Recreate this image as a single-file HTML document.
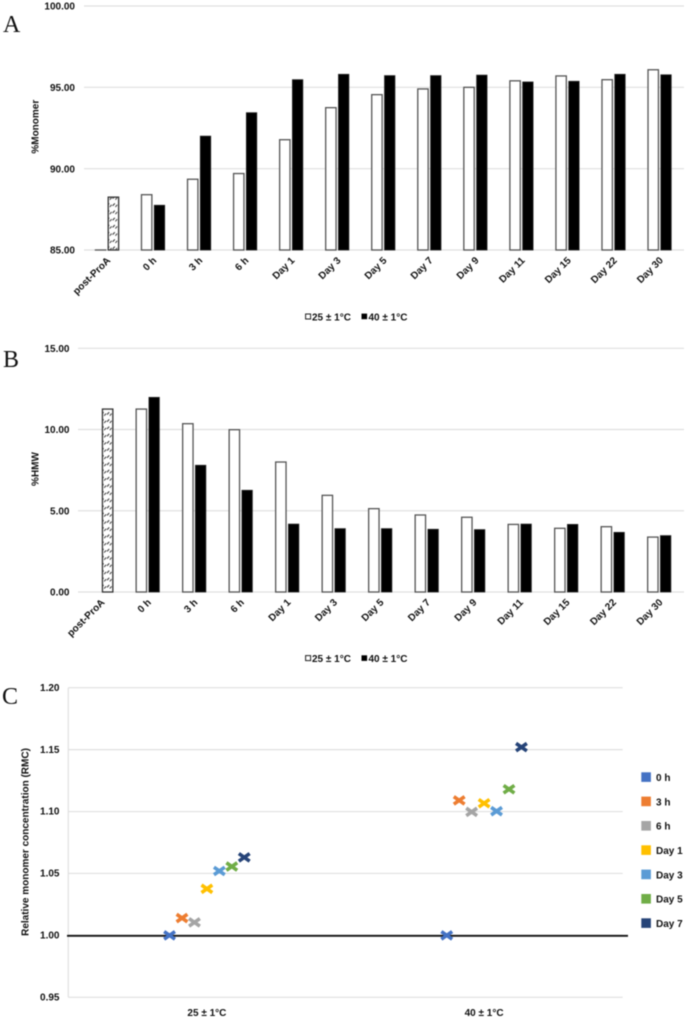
<!DOCTYPE html>
<html lang="en">
<head>
<meta charset="utf-8">
<title>Monomer, HMW and RMC stability charts</title>
<style>
html,body{margin:0;padding:0;background:#fff;width:685px;height:1020px;overflow:hidden}
svg{display:block;filter:blur(0.4px)}
text{font-family:"Liberation Sans",sans-serif;font-size:10px;font-weight:bold;fill:#111}
.panel{font-family:"Liberation Serif",serif;font-size:24px;font-weight:normal;fill:#111}
</style>
</head>
<body>
<svg id="figure" xmlns="http://www.w3.org/2000/svg" width="685" height="1020" viewBox="0 0 685 1020">
  <defs>
    <pattern id="hatch" patternUnits="userSpaceOnUse" x="0" y="0" width="5.6" height="7.2">
      <path d="M0.6 4.2L2.8 1.8M3.4 5.4L5.2 3.2" stroke="#222" stroke-width="0.9" fill="none"/>
    </pattern>
  </defs>
  <text class="panel" x="3" y="32">A</text>
  <text class="panel" x="3" y="367">B</text>
  <text class="panel" x="2" y="704">C</text>

  <g id="chartA"></g>
  <g id="chartB"></g>
  <g id="chartC"></g>

  <g>
    <rect x="305.6" y="314" width="5" height="5" fill="#fff" stroke="#222" stroke-width="1"/>
    <text x="312" y="320.3">25 ± 1°C</text>
    <rect x="361.5" y="313.6" width="5.6" height="5.6" fill="#000"/>
    <text x="368.5" y="320.3">40 ± 1°C</text>
  </g>
  <g>
    <rect x="305.6" y="655.6" width="5" height="5" fill="#fff" stroke="#222" stroke-width="1"/>
    <text x="312" y="662">25 ± 1°C</text>
    <rect x="361.5" y="655.3" width="5.6" height="5.6" fill="#000"/>
    <text x="368.5" y="662">40 ± 1°C</text>
  </g>
  <g>
    <rect x="641.3" y="772.3" width="9.6" height="9.6" fill="#4472c4"/>
    <text x="656" y="781">0 h</text>
    <rect x="641.3" y="796.6" width="9.6" height="9.6" fill="#ed7d31"/>
    <text x="656" y="805.3">3 h</text>
    <rect x="641.3" y="821" width="9.6" height="9.6" fill="#a5a5a5"/>
    <text x="656" y="829.7">6 h</text>
    <rect x="641.3" y="845.3" width="9.6" height="9.6" fill="#ffc000"/>
    <text x="656" y="854">Day 1</text>
    <rect x="641.3" y="869.6" width="9.6" height="9.6" fill="#5b9bd5"/>
    <text x="656" y="878.3">Day 3</text>
    <rect x="641.3" y="894" width="9.6" height="9.6" fill="#70ad47"/>
    <text x="656" y="902.7">Day 5</text>
    <rect x="641.3" y="918.3" width="9.6" height="9.6" fill="#264478"/>
    <text x="656" y="927">Day 7</text>
  </g>
</svg>
<script>
// ---- shared categories ----
const barCategories = ["post-ProA","0 h","3 h","6 h","Day 1","Day 3","Day 5","Day 7","Day 9","Day 11","Day 15","Day 22","Day 30"];

// ---- chart A: %Monomer ----
const monomerTicks = [85, 90, 95, 100];
const monomerTickLabels = ["85.00","90.00","95.00","100.00"];
const monomer25 = [85.0,88.4,89.35,89.7,91.78,93.75,94.55,94.9,95.0,95.4,95.7,95.47,96.08];
const monomer40 = [null,87.75,92.0,93.44,95.47,95.8,95.72,95.72,95.75,95.33,95.37,95.8,95.77];
const monomerPostProA = [88.25];

// ---- chart B: %HMW ----
const hmwTicks = [0, 5, 10, 15];
const hmwTickLabels = ["0.00","5.00","10.00","15.00"];
const hmw25 = [null,11.26,10.36,9.99,8.0,5.95,5.13,4.74,4.6,4.16,3.92,4.02,3.38];
const hmw40 = [null,11.98,7.8,6.26,4.18,3.9,3.9,3.86,3.84,4.18,4.16,3.67,3.47];
const hmwPostProA = [11.26];

// ---- chart C: RMC ----
const rmcCategories = ["25 ± 1°C","40 ± 1°C"];
const rmcTicks = [0.95, 1.0, 1.05, 1.1, 1.15, 1.2];
const rmcTickLabels = ["0.95","1.00","1.05","1.10","1.15","1.20"];
const rmcSeriesNames = ["0 h","3 h","6 h","Day 1","Day 3","Day 5","Day 7"];
const rmcColors = ["#4472c4","#ed7d31","#a5a5a5","#ffc000","#5b9bd5","#70ad47","#264478"];
const rmc25 = [1.0,1.014,1.0105,1.0376,1.052,1.0556,1.063];
const rmc40 = [1.0,1.109,1.0997,1.1067,1.1003,1.118,1.152];
const rmcReference = [1.0];

const SVGNS = "http://www.w3.org/2000/svg";
function make(tag, attrs, parent, txt) {
  const el = document.createElementNS(SVGNS, tag);
  for (const k in attrs) el.setAttribute(k, attrs[k]);
  if (txt !== undefined) el.textContent = txt;
  parent.appendChild(el);
  return el;
}
function linear(d0, d1, r0, r1) {
  return v => r0 + (v - d0) * (r1 - r0) / (d1 - d0);
}

function drawBars(root, o) {
  const y = linear(o.domain[0], o.domain[1], o.range[0], o.range[1]);
  const base = o.range[0];
  const x = i => o.left + o.step * (i + 0.5);
  o.ticks.forEach((t, i) => {
    const g = make("line", {x1:o.left, x2:o.right, y1:y(t), y2:y(t), stroke:"#e0e0e0", "stroke-width":1.2}, root);
    
    
    const l = make("text", {x:o.tickRight, y:y(t)+3.6, "text-anchor":"end"}, root, o.tickLabels[i]);
    
    
  });
  const title = make("text", {transform:"translate(38.5 "+o.titleY+") rotate(-90)", "text-anchor":"middle"}, root, o.title);
  
  
  const W = 10.4, G = 1.2;
  barCategories.forEach((c, i) => {
    const cx = x(i);
    const a = o.s25[i], b = o.s40[i];
    if (a !== null) {
      const r = make("rect", {x:cx-G-W, y:y(a), width:W, height:Math.max(base-y(a),0.01), fill:"#fff", stroke:"#555", "stroke-width":1.3}, root);
      
      
    }
    if (b !== null) {
      const r = make("rect", {x:cx+G, y:y(b), width:W, height:base-y(b), fill:"#000", stroke:"#222", "stroke-width":0.8}, root);
      
      
    }
    if (i === 0) {
      const px = cx + G;
      const r0 = make("rect", {x:px, y:y(o.post[0]), width:W, height:base-y(o.post[0]), fill:"#fff"}, root);
      
      
      const r = make("rect", {x:px, y:y(o.post[0]), width:W, height:base-y(o.post[0]), fill:"url(#hatch)", stroke:"#333", "stroke-width":1.3}, root);
      
      
    }
    const lx = cx + 4, ly = base + 11;
    const t = make("text", {x:lx, y:ly, "text-anchor":"end", transform:"rotate(-45 "+lx+" "+ly+")"}, root, c);
    
    
  });
}

drawBars(document.getElementById("chartA"), {
  domain:[85,100], range:[250,6], left:84, step:46.05, right:684, tickRight:75,
  ticks:monomerTicks, tickLabels:monomerTickLabels, s25:monomer25, s40:monomer40, post:monomerPostProA,
  title:"%Monomer", titleY:126.7
});
drawBars(document.getElementById("chartB"), {
  domain:[0,15], range:[592,348.3], left:78, step:46.5, right:684, tickRight:69.5,
  ticks:hmwTicks, tickLabels:hmwTickLabels, s25:hmw25, s40:hmw40, post:hmwPostProA,
  title:"%HMW", titleY:469
});

(function () {
  const root = document.getElementById("chartC");
  const y = linear(0.95, 1.2, 997.3, 687.7);
  const left = 68.3, right = 622.7;
  const catStep = (right - left) / rmcCategories.length;
  const catX = i => left + catStep * (i + 0.5);
  const serX = s => (s - (rmcSeriesNames.length - 1) / 2) * 12.45;
  const axis = make("line", {x1:left, x2:left, y1:y(1.2), y2:y(0.95), stroke:"#e0e0e0", "stroke-width":1.2}, root);
  
  
  rmcTicks.forEach((t, i) => {
    const g = make("line", {x1:left, x2:right, y1:y(t), y2:y(t), stroke:"#e0e0e0", "stroke-width":1.2}, root);
    
    
    const l = make("text", {x:59.5, y:y(t)+3.2, "text-anchor":"end"}, root, rmcTickLabels[i]);
    
    
  });
  const ref = make("line", {x1:67, x2:628, y1:y(rmcReference[0])+0.4, y2:y(rmcReference[0])+0.4, stroke:"#111", "stroke-width":1.9}, root);
  
  
  const title = make("text", {transform:"translate(28.5 842) rotate(-90)", "text-anchor":"middle"}, root, "Relative monomer concentration (RMC)");
  
  
  rmcCategories.forEach((c, i) => {
    const t = make("text", {x:catX(i), y:1016, "text-anchor":"middle"}, root, c);
    
    
    const vals = i === 0 ? rmc25 : rmc40;
    vals.forEach((v, s) => {
      const px = catX(i) + serX(s), py = y(v);
      const m = make("path", {
        d:"M"+(px-5.4)+" "+(py-3.8)+"L"+(px+5.4)+" "+(py+3.8)+"M"+(px-5.4)+" "+(py+3.8)+"L"+(px+5.4)+" "+(py-3.8),
        stroke:rmcColors[s], "stroke-width":3.6, fill:"none"
      }, root);
      
      
    });
  });
})();
</script>
</body>
</html>
